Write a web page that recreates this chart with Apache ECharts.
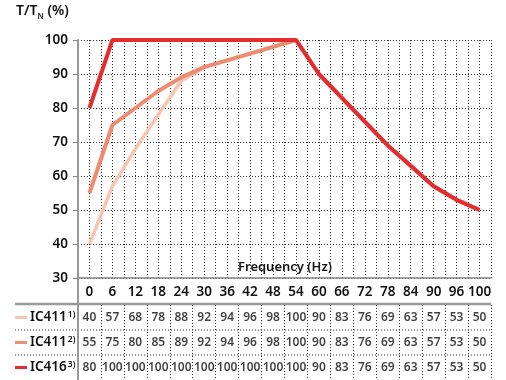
<!DOCTYPE html>
<html>
<head>
<meta charset="utf-8">
<script src="https://cdn.jsdelivr.net/npm/echarts@6/dist/echarts.min.js"></script>
<style>
  html, body { margin: 0; padding: 0; background: #fff; }
  #main { width: 506px; height: 380px; }
</style>
</head>
<body>
<div id="main"></div>
<script>
var freq = ['0', '6', '12', '18', '24', '30', '36', '42', '48', '54', '60', '66', '72', '78', '84', '90', '96', '100'];
var ic411a = [40, 57, 68, 78, 88, 92, 94, 96, 98, 100, 90, 83, 76, 69, 63, 57, 53, 50];
var ic411b = [55, 75, 80, 85, 89, 92, 94, 96, 98, 100, 90, 83, 76, 69, 63, 57, 53, 50];
var ic416 = [80, 100, 100, 100, 100, 100, 100, 100, 100, 100, 90, 83, 76, 69, 63, 57, 53, 50];
var rowNames = ['IC411', 'IC411', 'IC416'];
var rowNotes = ['1)', '2)', '3)'];
var colors = ['#f7c6b1', '#ee8b70', '#e42d2e'];

var font = 'Noto Sans';
var weight = 600;
var dotted = { color: '#333', width: 1, type: [1, 2] };

// table cells: [column, row, value]
var cells = [];
[ic411a, ic411b, ic416].forEach(function (row, r) {
    row.forEach(function (v, i) { cells.push([i, r, v]); });
});

var chart = echarts.init(document.getElementById('main'));

chart.setOption({
    animation: false,
    textStyle: { fontFamily: font, fontWeight: weight },
    grid: [
        { left: 78, right: 15, top: 40, bottom: 102 },
        { left: 78, right: 15, top: 305, height: 77 }
    ],
    xAxis: [
        {
            gridIndex: 0, type: 'category', data: freq, boundaryGap: true,
            axisLine: { lineStyle: { color: '#888', width: 1.5 } },
            axisTick: { alignWithLabel: true, length: 5, lineStyle: { color: '#888' } },
            axisLabel: { interval: 0, fontSize: 13.5, fontWeight: weight, color: '#111', margin: 7 },
            splitLine: { show: false }
        },
        {
            // half-band grid lines
            gridIndex: 0, type: 'value', min: 0, max: 36, interval: 1, position: 'top',
            axisLine: { show: false }, axisTick: { show: false }, axisLabel: { show: false },
            splitLine: { show: true, lineStyle: dotted }
        },
        {
            gridIndex: 1, type: 'category', data: freq, boundaryGap: true,
            axisLine: { show: false }, axisTick: { show: false },
            axisLabel: { show: false, interval: 0 },
            splitLine: { show: true, interval: 0, lineStyle: dotted }
        }
    ],
    yAxis: [
        {
            gridIndex: 0, type: 'value', min: 30, max: 100, interval: 10,
            axisLine: { show: true, lineStyle: { color: '#999', width: 2 } },
            axisTick: { show: true, length: 5, lineStyle: { color: '#888' } },
            axisLabel: { fontSize: 13.5, fontWeight: weight, color: '#111', margin: 10 },
            splitLine: { show: true, lineStyle: dotted }
        },
        {
            gridIndex: 1, type: 'category', data: rowNames, inverse: true,
            axisLine: { show: true, lineStyle: { color: '#999', width: 2 } },
            axisTick: { show: false },
            splitLine: { show: false },
            axisLabel: {
                align: 'left', margin: 63,
                formatter: function (v, i) {
                    return '{s' + i + '|}{n|' + v + '}{u|' + rowNotes[i] + '}';
                },
                rich: {
                    s0: { backgroundColor: colors[0], width: 12, height: 3 },
                    s1: { backgroundColor: colors[1], width: 12, height: 3 },
                    s2: { backgroundColor: colors[2], width: 12, height: 3 },
                    n: { fontSize: 13.5, fontWeight: weight, fontFamily: font, color: '#111', padding: [0, 1, 0, 3], lineHeight: 15 },
                    u: { fontSize: 8.5, fontWeight: weight, fontFamily: font, color: '#111', verticalAlign: 'top', lineHeight: 15 }
                }
            }
        }
    ],
    series: [
        { type: 'line', data: ic411a, xAxisIndex: 0, yAxisIndex: 0, symbol: 'none', lineStyle: { width: 3.5, color: colors[0] }, itemStyle: { color: colors[0] }, z: 3 },
        { type: 'line', data: ic411b, xAxisIndex: 0, yAxisIndex: 0, symbol: 'none', lineStyle: { width: 4, color: colors[1] }, itemStyle: { color: colors[1] }, z: 4 },
        { type: 'line', data: ic416, xAxisIndex: 0, yAxisIndex: 0, symbol: 'none', lineStyle: { width: 4, color: colors[2] }, itemStyle: { color: colors[2] }, z: 5 },
        {
            type: 'scatter', data: cells, xAxisIndex: 2, yAxisIndex: 1, symbolSize: 1,
            itemStyle: { color: 'transparent' }, silent: true,
            label: {
                show: true, position: 'inside', fontSize: 12, fontWeight: weight, fontFamily: font, color: '#111',
                formatter: function (p) { return p.value[2]; }
            }
        }
    ],
    graphic: [
        {
            type: 'text', left: 16, top: 4,
            style: {
                text: '{a|T/T}{b|N}{a| (%)}',
                rich: {
                    a: { fontSize: 14, fontWeight: weight, fontFamily: font, fill: '#111', lineHeight: 20 },
                    b: { fontSize: 8, fontWeight: weight, fontFamily: font, fill: '#111', verticalAlign: 'bottom', lineHeight: 20 }
                }
            }
        },
        {
            type: 'text', x: 236, y: 267,
            style: { text: 'Frequency (Hz)', fontSize: 13, fontWeight: weight, fontFamily: font, fill: '#111', verticalAlign: 'middle', backgroundColor: '#fff', padding: [1, 2] }
        },
        { type: 'line', shape: { x1: 15, y1: 304, x2: 491, y2: 304 }, style: { stroke: '#999', lineWidth: 2.5 } },
        { type: 'line', shape: { x1: 15, y1: 330, x2: 491, y2: 330 }, style: { stroke: '#333', lineWidth: 1, lineDash: [1, 2] } },
        { type: 'line', shape: { x1: 15, y1: 355, x2: 491, y2: 355 }, style: { stroke: '#333', lineWidth: 1, lineDash: [1, 2] } },
        { type: 'line', shape: { x1: 78, y1: 278, x2: 78, y2: 305 }, style: { stroke: '#999', lineWidth: 2 } }
    ]
});
</script>
</body>
</html>
